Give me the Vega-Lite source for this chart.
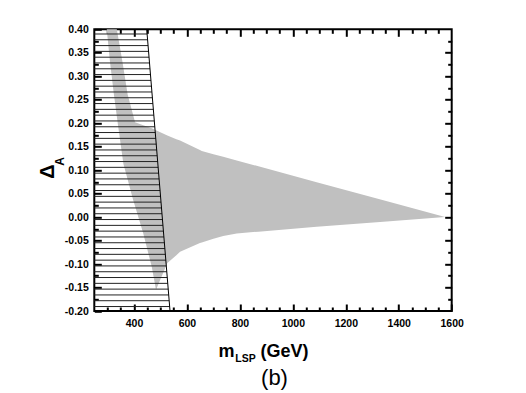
{
  "$schema": "https://vega.github.io/schema/vega-lite/v6.json",
  "width": 357.4,
  "height": 281.7,
  "autosize": {"type": "none"},
  "padding": {"left": 94.3, "top": 29.3, "right": 74.3, "bottom": 82},
  "background": "white",
  "config": {
    "view": {"stroke": "black", "strokeWidth": 2},
    "axis": {
      "domain": false, "grid": false,
      "labelFont": "Liberation Sans", "labelFontWeight": "bold", "labelFontSize": 10.5, "labelColor": "black",
      "labelOverlap": false, "labelFlush": false,
      "tickColor": "black", "tickWidth": 2,
      "titleFont": "Liberation Sans", "titleFontWeight": "bold", "titleColor": "black"
    }
  },
  "datasets": {
    "band": [
      {"m": 297, "lo": 0.40, "hi": 0.40},
      {"m": 309, "lo": 0.332, "hi": 0.40},
      {"m": 324, "lo": 0.261, "hi": 0.40},
      {"m": 335, "lo": 0.215, "hi": 0.40},
      {"m": 341, "lo": 0.190, "hi": 0.381},
      {"m": 356, "lo": 0.129, "hi": 0.332},
      {"m": 360, "lo": 0.113, "hi": 0.318},
      {"m": 376, "lo": 0.080, "hi": 0.261},
      {"m": 397, "lo": 0.036, "hi": 0.217},
      {"m": 404, "lo": 0.023, "hi": 0.202},
      {"m": 435, "lo": -0.035, "hi": 0.1955},
      {"m": 467, "lo": -0.106, "hi": 0.189},
      {"m": 475, "lo": -0.130, "hi": 0.187},
      {"m": 483, "lo": -0.155, "hi": 0.185},
      {"m": 526, "lo": -0.098, "hi": 0.174},
      {"m": 560, "lo": -0.081, "hi": 0.166},
      {"m": 574, "lo": -0.074, "hi": 0.163},
      {"m": 649, "lo": -0.055, "hi": 0.143},
      {"m": 656, "lo": -0.054, "hi": 0.141},
      {"m": 700, "lo": -0.046, "hi": 0.134},
      {"m": 737, "lo": -0.040, "hi": 0.1286},
      {"m": 788, "lo": -0.035, "hi": 0.1207},
      {"m": 870, "lo": -0.031, "hi": 0.1082},
      {"m": 1090, "lo": -0.0205, "hi": 0.0744},
      {"m": 1342, "lo": -0.0098, "hi": 0.0357},
      {"m": 1575, "lo": 0, "hi": 0}
    ],
    "hatch": [
      {"h": 0.3900, "e": 449.5}, {"h": 0.3777, "e": 451.3}, {"h": 0.3653, "e": 453.1}, {"h": 0.3530, "e": 454.9},
      {"h": 0.3406, "e": 456.7}, {"h": 0.3283, "e": 458.5}, {"h": 0.3159, "e": 460.3}, {"h": 0.3036, "e": 462.1},
      {"h": 0.2912, "e": 464.0}, {"h": 0.2789, "e": 465.8}, {"h": 0.2665, "e": 467.6}, {"h": 0.2542, "e": 469.4},
      {"h": 0.2418, "e": 471.2}, {"h": 0.2295, "e": 473.0}, {"h": 0.2171, "e": 474.8}, {"h": 0.2048, "e": 476.6},
      {"h": 0.1924, "e": 478.4}, {"h": 0.1801, "e": 480.3}, {"h": 0.1677, "e": 482.1}, {"h": 0.1554, "e": 483.9},
      {"h": 0.1430, "e": 485.7}, {"h": 0.1307, "e": 487.5}, {"h": 0.1183, "e": 489.3}, {"h": 0.1060, "e": 491.1},
      {"h": 0.0936, "e": 492.9}, {"h": 0.0813, "e": 494.7}, {"h": 0.0689, "e": 496.6}, {"h": 0.0566, "e": 498.4},
      {"h": 0.0442, "e": 500.2}, {"h": 0.0319, "e": 502.0}, {"h": 0.0195, "e": 503.8}, {"h": 0.0072, "e": 505.6},
      {"h": -0.0052, "e": 507.4}, {"h": -0.0176, "e": 509.2}, {"h": -0.0299, "e": 511.0}, {"h": -0.0423, "e": 512.9},
      {"h": -0.0546, "e": 514.7}, {"h": -0.0670, "e": 516.5}, {"h": -0.0793, "e": 518.3}, {"h": -0.0917, "e": 520.1},
      {"h": -0.1040, "e": 521.9}, {"h": -0.1164, "e": 523.7}, {"h": -0.1287, "e": 525.5}, {"h": -0.1411, "e": 527.3},
      {"h": -0.1534, "e": 529.2}, {"h": -0.1658, "e": 531.0}, {"h": -0.1781, "e": 532.8}, {"h": -0.1905, "e": 534.6}
    ],
    "edge": [
      {"m": 448, "d": 0.40},
      {"m": 536, "d": -0.20}
    ]
  },
  "layer": [
    {
      "data": {"name": "band"},
      "mark": {"type": "area", "color": "#c0c0c0", "opacity": 1},
      "encoding": {
        "x": {
          "field": "m", "type": "quantitative",
          "scale": {"domain": [250, 1600], "nice": false, "zero": false},
          "axis": {
            "orient": "bottom",
            "values": [300, 350, 400, 450, 500, 550, 600, 650, 700, 750, 800, 850, 900, 950, 1000, 1050, 1100, 1150, 1200, 1250, 1300, 1350, 1400, 1450, 1500, 1550, 1600],
            "format": "d",
            "labelExpr": "datum.value % 200 === 0 ? datum.label : ''",
            "tickSize": {"condition": {"test": "datum.value % 200 === 0", "value": -7}, "value": -4},
            "labelPadding": 14,
            "title": "m",
            "titleFontSize": 18, "titleAlign": "left", "titleBaseline": "alphabetic", "titleAngle": 0,
            "titleX": 123.7, "titleY": 45.5
          }
        },
        "y": {
          "field": "lo", "type": "quantitative",
          "scale": {"domain": [-0.2, 0.4], "nice": false, "zero": false},
          "axis": {
            "orient": "left",
            "values": [-0.2, -0.175, -0.15, -0.125, -0.1, -0.075, -0.05, -0.025, 0, 0.025, 0.05, 0.075, 0.1, 0.125, 0.15, 0.175, 0.2, 0.225, 0.25, 0.275, 0.3, 0.325, 0.35, 0.375, 0.4],
            "labelExpr": "abs(round(datum.value*1000)) % 50 === 0 ? replace(format(datum.value, '.2f'), '\u2212', '-') : ''",
            "tickSize": {"condition": {"test": "abs(round(datum.value*1000)) % 50 === 0", "value": -7}, "value": -4},
            "labelPadding": 13,
            "title": "\u0394",
            "titleFontSize": 20, "titleAngle": -90, "titleAlign": "center", "titleBaseline": "alphabetic",
            "titleX": -41.3, "titleY": 141.7
          }
        },
        "y2": {"field": "hi"}
      }
    },
    {
      "data": {"name": "hatch"},
      "mark": {"type": "rule", "color": "#222222", "strokeWidth": 1},
      "encoding": {
        "x": {
          "field": "e", "type": "quantitative",
          "axis": {
            "orient": "bottom", "ticks": false, "labels": false,
            "title": "(GeV)", "titleFontSize": 18,
            "titleAlign": "left", "titleBaseline": "alphabetic", "titleAngle": 0,
            "titleX": 165.7, "titleY": 45.5
          }
        },
        "x2": {"datum": 250},
        "y": {
          "field": "h", "type": "quantitative",
          "axis": {
            "orient": "left", "ticks": false, "labels": false,
            "title": "(b)", "titleFontSize": 22, "titleFontWeight": "normal",
            "titleAlign": "center", "titleBaseline": "alphabetic", "titleAngle": 0,
            "titleX": 179.7, "titleY": 355
          }
        }
      }
    },
    {
      "data": {"name": "edge"},
      "mark": {"type": "line", "color": "black", "strokeWidth": 1},
      "encoding": {
        "x": {
          "field": "m", "type": "quantitative",
          "axis": {
            "orient": "top", "labels": false,
            "values": [300, 350, 400, 450, 500, 550, 600, 650, 700, 750, 800, 850, 900, 950, 1000, 1050, 1100, 1150, 1200, 1250, 1300, 1350, 1400, 1450, 1500, 1550],
            "tickSize": {"condition": {"test": "datum.value % 200 === 0", "value": -7}, "value": -4},
            "title": "LSP", "titleFontSize": 10.5, "titleAlign": "left", "titleBaseline": "alphabetic", "titleAngle": 0,
            "titleX": 140.5, "titleY": 331.7
          }
        },
        "y": {
          "field": "d", "type": "quantitative",
          "axis": {
            "orient": "right", "labels": false,
            "values": [-0.175, -0.15, -0.125, -0.1, -0.075, -0.05, -0.025, 0, 0.025, 0.05, 0.075, 0.1, 0.125, 0.15, 0.175, 0.2, 0.225, 0.25, 0.275, 0.3, 0.325, 0.35, 0.375],
            "tickSize": {"condition": {"test": "abs(round(datum.value*1000)) % 50 === 0", "value": -7}, "value": -4},
            "title": "A", "titleFontSize": 12, "titleAngle": -90, "titleAlign": "center", "titleBaseline": "alphabetic",
            "titleX": -388.7, "titleY": 131.7
          }
        }
      }
    }
  ],
  "resolve": {"axis": {"x": "independent", "y": "independent"}}
}
